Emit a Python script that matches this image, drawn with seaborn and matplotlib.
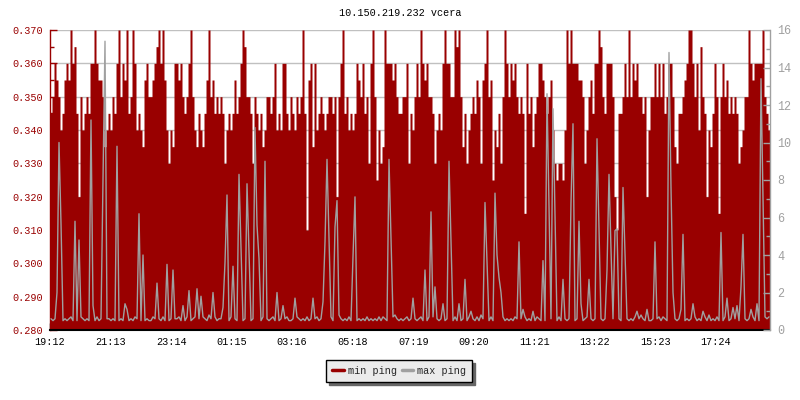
import numpy as np
import pandas as pd
import matplotlib
matplotlib.use("Agg")
import matplotlib.pyplot as plt
from matplotlib.lines import Line2D
from matplotlib.ticker import MultipleLocator
import seaborn as sns

title = "10.150.219.232 vcera"
slot_minutes = 4  # one sample per 4 minutes, 24 hours total

# min ping per slot, in microseconds (0.345 ms -> 345)
min_ping_us = [
    345, 350, 360, 355, 350, 340, 345, 355, 360, 355,
    370, 360, 365, 345, 320, 350, 340, 345, 350, 345,
    360, 360, 370, 360, 355, 355, 350, 335, 340, 345,
    340, 350, 345, 360, 370, 350, 360, 355, 370, 345,
    350, 370, 360, 340, 345, 340, 335, 355, 360, 350,
    350, 355, 360, 365, 370, 360, 370, 355, 340, 330,
    340, 335, 360, 360, 355, 360, 350, 345, 350, 360,
    370, 350, 340, 335, 345, 340, 335, 345, 355, 370,
    350, 355, 345, 350, 345, 350, 345, 330, 340, 345,
    340, 345, 355, 345, 350, 360, 370, 365, 350, 350,
    345, 330, 350, 345, 340, 345, 335, 340, 350, 350,
    345, 350, 360, 340, 345, 340, 360, 360, 345, 340,
    350, 345, 340, 350, 345, 350, 370, 345, 310, 355,
    360, 335, 360, 340, 345, 350, 345, 340, 345, 350,
    350, 345, 350, 320, 350, 360, 370, 345, 350, 340,
    345, 340, 345, 360, 355, 350, 360, 345, 350, 330,
    360, 370, 350, 325, 340, 330, 335, 370, 360, 360,
    360, 355, 360, 350, 345, 345, 350, 350, 360, 330,
    345, 340, 350, 360, 350, 370, 360, 355, 360, 350,
    350, 345, 330, 340, 345, 340, 360, 370, 360, 360,
    350, 350, 370, 365, 370, 350, 335, 345, 330, 340,
    345, 350, 345, 355, 350, 330, 355, 360, 370, 350,
    355, 325, 340, 335, 345, 330, 350, 370, 360, 350,
    360, 355, 360, 350, 345, 350, 345, 315, 360, 345,
    350, 335, 345, 350, 360, 360, 355, 350, 345, 350,
    355, 340, 330, 325, 330, 330, 325, 340, 370, 360,
    370, 360, 360, 360, 355, 355, 350, 330, 340, 350,
    355, 345, 360, 360, 370, 365, 350, 345, 360, 360,
    360, 350, 320, 310, 345, 345, 350, 360, 350, 370,
    350, 360, 355, 360, 350, 350, 345, 350, 320, 340,
    350, 350, 360, 350, 360, 350, 360, 345, 350, 360,
    360, 350, 335, 330, 345, 345, 350, 355, 360, 370,
    370, 360, 350, 360, 340, 365, 350, 345, 320, 340,
    335, 345, 360, 350, 315, 350, 360, 350, 355, 345,
    350, 345, 350, 345, 330, 335, 340, 350, 350, 370,
    360, 355, 360, 360, 360, 360, 370, 350, 345, 340,
]

# max ping background level per slot, tenths of ms (one digit per slot)
max_ping_base = (
    "6565765656" "7565576565" "6757565866" "5657565765" "6576856565"
    "5765657565" "6566756576" "5675657658" "6575665765" "7565675656"
    "5656757565" "6758565675" "5657656575" "6567565756" "7565865657"
    "5675656575" "6565757656" "5786565675" "6565675657" "5756567565"
    "6575656757" "5657586565" "7565657565" "6576565756" "5657656575"
    "6565758656" "5756565675" "6567565657" "5675657565" "6575686565"
    "5656757656" "7565657565" "6575656758" "5657565765" "6567575656"
    "5756565767"
)

# max ping spikes: slot index and value in ms
spike_slot = [
    3, 4, 5, 12, 14, 20, 21, 26, 27, 33, 37, 38, 44, 46, 53, 58, 61, 66, 69,
    73, 75, 81, 86, 87, 88, 91, 94, 95, 98, 99, 102, 103, 104, 107, 113, 116,
    122, 131, 136, 137, 138, 139, 142, 143, 151, 152, 169, 170, 181, 187, 190,
    192, 196, 199, 200, 204, 207, 210, 217, 218, 222, 223, 224, 225, 234, 236,
    241, 246, 248, 249, 251, 252, 256, 260, 261, 264, 265, 269, 273, 274, 278,
    279, 280, 282, 283, 286, 287, 293, 298, 302, 309, 310, 311, 315, 316, 321,
    326, 335, 338, 341, 343, 345, 346, 350, 353, 355, 356,
]
spike_ms = [
    2.0, 10.0, 5.7, 5.8, 4.8, 11.2, 1.3, 7.9, 15.4, 9.8, 1.4, 1.1, 6.2, 4.0,
    2.5, 3.5, 3.2, 1.3, 2.1, 2.2, 1.8, 2.0, 1.2, 3.6, 7.2, 3.4, 8.3, 4.5, 7.8,
    4.2, 10.8, 5.6, 3.8, 9.0, 2.0, 1.3, 1.7, 1.7, 1.5, 4.7, 9.1, 4.9, 5.5, 6.9,
    3.9, 7.1, 9.1, 4.8, 1.7, 3.2, 6.3, 2.3, 1.4, 9.0, 4.7, 1.4, 2.7, 1.0, 6.8,
    3.7, 7.3, 4.0, 2.8, 2.0, 4.7, 1.1, 1.0, 3.7, 12.6, 6.6, 11.8, 6.1, 2.7, 6.8,
    11.0, 5.8, 1.4, 2.7, 10.2, 5.3, 3.2, 8.3, 4.3, 5.3, 5.4, 7.6, 4.0, 1.0, 1.1,
    4.7, 14.8, 7.6, 2.0, 1.1, 5.1, 1.4, 1.0, 5.2, 1.7, 1.2, 1.3, 2.3, 5.1, 1.1,
    1.4, 13.4, 6.9,
]

tick_labels = ["19:12", "21:13", "23:14", "01:15", "03:16", "05:18",
               "07:19", "09:20", "11:21", "13:22", "15:23", "17:24"]

RED = "#990000"
GREY = "#a0a0a0"

assert len(min_ping_us) == 360 and len(max_ping_base) == 360
assert len(spike_slot) == len(spike_ms)

n = len(min_ping_us)
edges = np.arange(n + 1) * slot_minutes
min_ping = np.array(min_ping_us + [min_ping_us[-1]]) / 1000.0
max_ping = np.array([int(c) / 10.0 for c in max_ping_base])
max_ping[spike_slot] = spike_ms
df_min = pd.DataFrame({"minute": edges, "min": min_ping})
df_max = pd.DataFrame({"minute": edges[:-1] + slot_minutes / 2, "max": max_ping})

sns.set_theme(style="white")
plt.rcParams["font.family"] = ["Liberation Mono", "DejaVu Sans Mono"]

fig = plt.figure(figsize=(8, 4), dpi=100)
ax = fig.add_axes([0.0625, 0.175, 0.9, 0.75])
ax2 = ax.twinx()

ax.fill_between(df_min["minute"], 0.280, df_min["min"], step="post", color=RED, lw=0)
sns.lineplot(data=df_max, x="minute", y="max", ax=ax2, color=GREY, lw=1,
             estimator=None, legend=False)

ax.set_xlim(0, n * slot_minutes)
ax.set_ylim(0.280, 0.370)
ax2.set_ylim(0, 16)
ax.set_xticks(np.arange(len(tick_labels)) * 1332 / 11)
ax.set_xticklabels(tick_labels)
ax.yaxis.set_major_locator(MultipleLocator(0.010))
ax.yaxis.set_minor_locator(MultipleLocator(0.005))
ax.yaxis.set_major_formatter(plt.FormatStrFormatter("%.3f"))
ax2.yaxis.set_major_locator(MultipleLocator(2))
ax2.yaxis.set_minor_locator(MultipleLocator(1))
for a in (ax, ax2):
    a.set_xlabel("")
    a.set_ylabel("")

ax.set_axisbelow(True)
ax.yaxis.grid(True, color="#c0c0c0", lw=1)
ax.xaxis.grid(False)
ax2.grid(False)

fs = 7.3
ax.tick_params(axis="y", which="major", direction="in", length=5, width=1,
               color=RED, labelcolor=RED, labelsize=fs, pad=5, left=True)
ax.tick_params(axis="y", which="minor", direction="in", length=3, width=1,
               color=RED, left=True)
ax.tick_params(axis="x", direction="in", length=5, width=1, color="black",
               labelcolor="black", labelsize=fs, pad=5, bottom=True)
ax2.tick_params(axis="y", which="major", direction="in", length=5, width=1,
                color=GREY, labelcolor=GREY, labelsize=fs + 1.2, pad=5, right=True)
ax2.tick_params(axis="y", which="minor", direction="in", length=3, width=1,
                color=GREY, right=True)

for a in (ax, ax2):
    a.spines["top"].set_visible(False)
ax.spines["right"].set_visible(False)
ax.spines["left"].set_color(RED)
ax.spines["left"].set_linewidth(1)
ax.spines["bottom"].set_color("black")
ax.spines["bottom"].set_linewidth(1.5)
ax2.spines["left"].set_visible(False)
ax2.spines["bottom"].set_visible(False)
ax2.spines["right"].set_color(GREY)
ax2.spines["right"].set_linewidth(1)

fig.text(0.5, 0.9675, title, ha="center", va="center", fontsize=fs, color="black")

handles = [Line2D([0], [0], color=RED, lw=2.5), Line2D([0], [0], color=GREY, lw=2.5)]
leg = fig.legend(handles, ["min ping", "max ping"], loc="center",
                 bbox_to_anchor=(0.499, 0.0725), ncol=2, fontsize=fs,
                 frameon=True, fancybox=False, framealpha=1,
                 edgecolor="black", facecolor="#ebebeb",
                 shadow={"color": "#666666", "alpha": 1},
                 handlelength=1.1, handletextpad=0.4, columnspacing=0.5,
                 borderpad=0.6, borderaxespad=0)
leg.get_frame().set_linewidth(1)

fig.savefig("out.png", dpi=100)
